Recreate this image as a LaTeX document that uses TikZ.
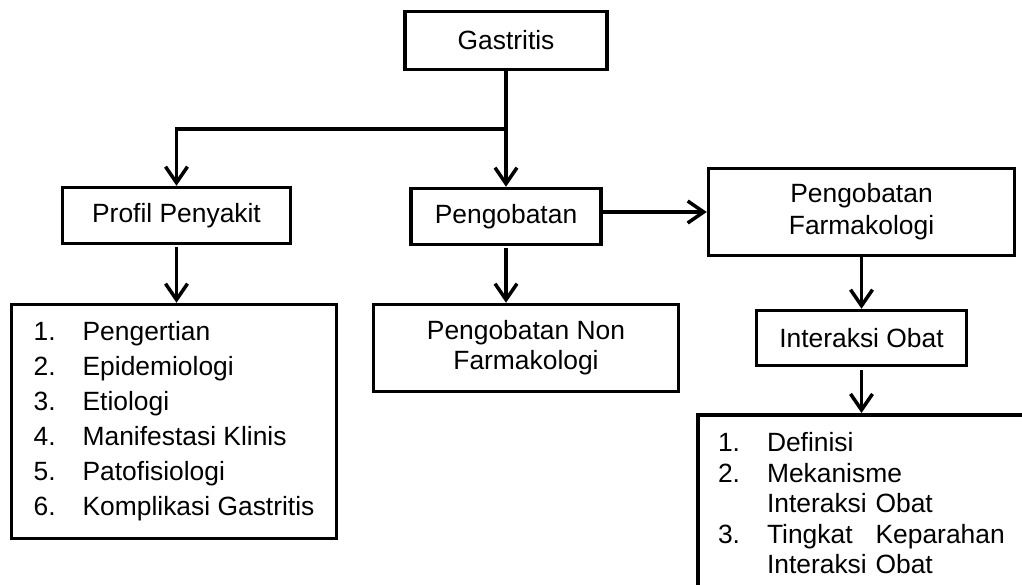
\documentclass[tikz,border=0pt]{standalone}
\usepackage{fontspec}
\setmainfont{Liberation Sans}
\usetikzlibrary{arrows.meta}
\begin{document}
\begin{tikzpicture}[x=1pt,y=-1pt,
  lw/.style={line width=3.5pt},
  box/.style={draw, lw, rectangle, inner sep=0pt, font=\fontsize{26.4}{32}\selectfont, align=center},
  arr/.style={lw, -{Straight Barb[length=16pt,width=22pt]}}]
\useasboundingbox (0,0) rectangle (1022,584);
\clip (0,0) rectangle (1022,584);
% boxes
\node[box, minimum width=202, minimum height=58] (gas) at (506,40.5) {Gastritis};
\node[box, minimum width=228, minimum height=56] (profil) at (176.5,215.5) {Profil Penyakit};
\node[box, minimum width=190, minimum height=56] (peng) at (506,216.5) {Pengobatan};
\node[box, minimum width=306, minimum height=87] (farm) at (861.5,212) {Pengobatan\\Farmakologi};
\node[box, minimum width=305, minimum height=87, font=\fontsize{26.4}{30}\selectfont] (nonf) at (526,348) {Pengobatan Non\\Farmakologi};
\node[box, minimum width=210, minimum height=55] (inter) at (861.5,338) {Interaksi Obat};
\node[box, minimum width=325, minimum height=234, align=left, font=\fontsize{26.4}{35}\selectfont] (list1) at (174,421.5)
  {\makebox[49pt][l]{1.}Pengertian\\
   \makebox[49pt][l]{2.}Epidemiologi\\
   \makebox[49pt][l]{3.}Etiologi\\
   \makebox[49pt][l]{4.}Manifestasi Klinis\\
   \makebox[49pt][l]{5.}Patofisiologi\\
   \makebox[49pt][l]{6.}Komplikasi Gastritis};
\node[box, anchor=north west, align=left, text width=300pt, inner xsep=20.25pt, inner ysep=17.9pt, font=\fontsize{26.4}{30.5}\selectfont] (list2) at (696,413)
  {\makebox[49pt][l]{1.}Definisi\\
   \makebox[49pt][l]{2.}Mekanisme\\
   \hspace*{49pt}Interaksi Obat\\
   \makebox[49pt][l]{3.}Tingkat\hspace{23pt}Keparahan\\
   \hspace*{49pt}Interaksi Obat};
% connectors
\coordinate (split) at (506,129);
\draw[lw] (gas.south) -- (split);
\draw[arr] (split) -| (profil.north);
\draw[arr] (split) -- (peng.north);
\draw[arr, shorten <=2pt] (profil.south) -- (profil.south |- list1.north);
\draw[arr, shorten <=2pt] (peng.south) -- (peng.south |- nonf.north);
\draw[arr] (peng.east |- farm.west) -- (farm.west);
\draw[arr] (farm.south) -- (inter.north);
\draw[arr, shorten <=3pt] (inter.south) -- (inter.south |- list2.north);
\end{tikzpicture}
\end{document}
